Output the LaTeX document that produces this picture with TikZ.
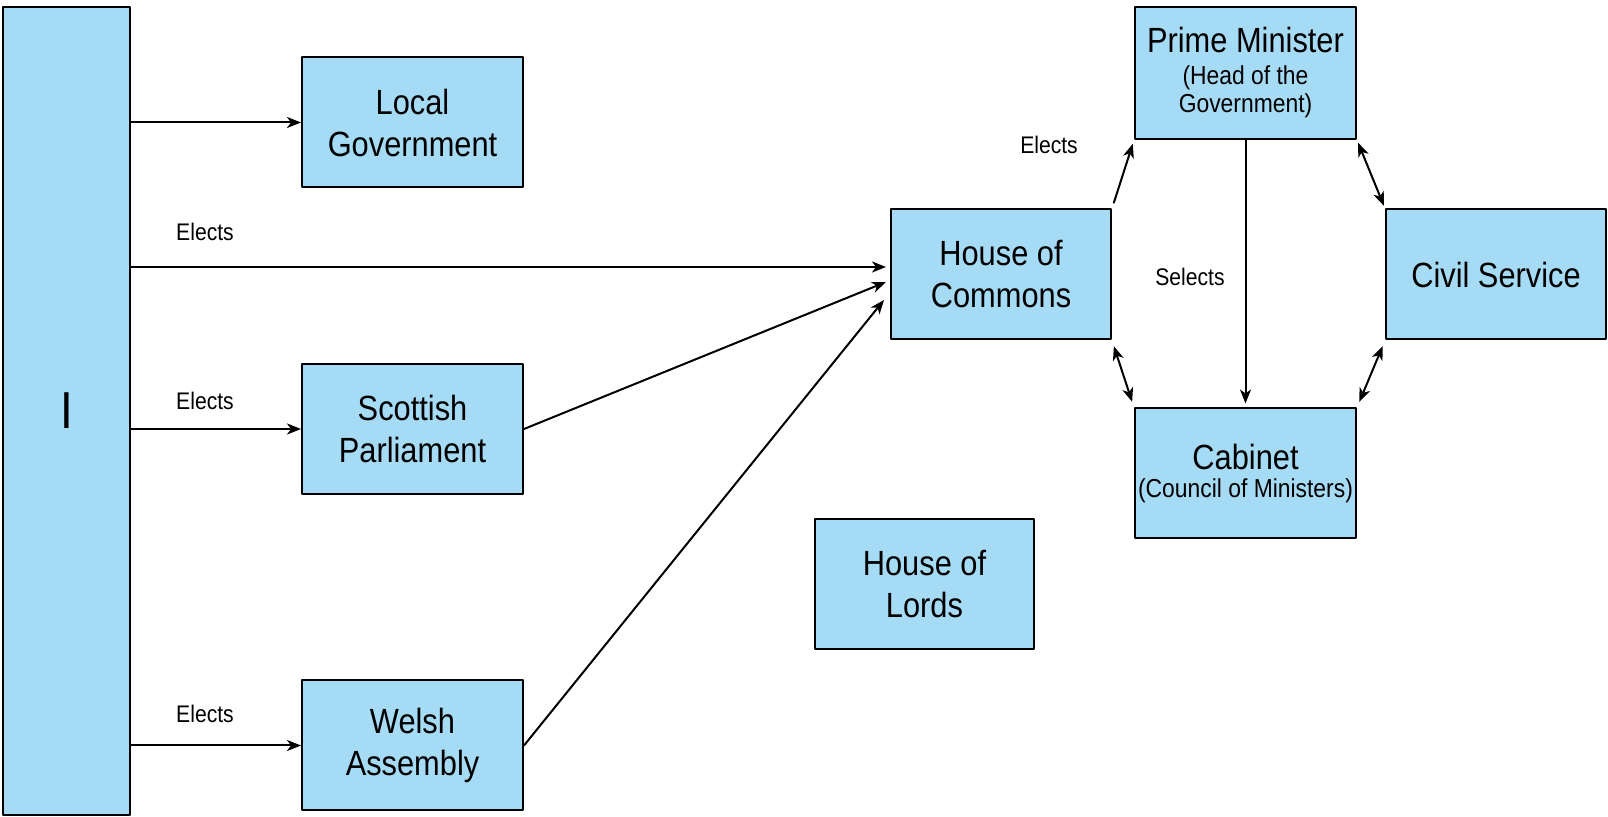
\documentclass[tikz,border=0pt]{standalone}
\usepackage{fontspec}
\setmainfont{Liberation Sans}[FakeStretch=0.88]
\usetikzlibrary{arrows.meta}
\definecolor{boxblue}{RGB}{166,219,245}
\tikzset{
	body/.style={draw, line width=1pt, fill=boxblue, inner sep=0pt, align=center,
		minimum width=110.5pt, minimum height=65pt, font=\fontsize{17.5}{21}\selectfont},
	lbl/.style={inner sep=0pt, font=\fontsize{12}{14}\selectfont},
	link/.style={line width=1pt},
}
\newcommand{\subtxt}{\fontsize{13}{15}\selectfont}
\begin{document}
\begin{tikzpicture}[x=0.5pt, y=-0.5pt, line join=round, line cap=round, >={Stealth[length=7pt,width=5.5pt,inset=2pt]}]
	\useasboundingbox (0,0) rectangle (1608,817);
	% boxes, at pixel positions of the original
	\path
	(66.5,411) node[body, minimum width=63.5pt, minimum height=404pt, font=\fontsize{26}{30}\selectfont] (voters) {I}
	(412.5,122.5) node[body] (lg) {Local\\Government}
	(412.5,429) node[body] (scot) {Scottish\\Parliament}
	(412.5,745.5) node[body] (welsh) {Welsh\\Assembly}
	(1001,274.5) node[body, minimum width=110pt] (hoc) {House of\\Commons}
	(924.5,584) node[body, minimum width=109.5pt] (lords) {House of\\Lords}
	(1245.5,73) node[body, minimum height=66pt] (pm) {Prime Minister\\[-5pt]{\subtxt (Head of the}\\[-7pt]{\subtxt Government)}}
	(1496,274.5) node[body, minimum width=110pt] (cs) {Civil Service}
	(1245.5,473.5) node[body] (cab) {Cabinet\\[-7pt]{\subtxt (Council of Ministers)}}
	;
	% labels
	\path
	(205,232) node[lbl] (e1) {Elects}
	(205,401) node[lbl] (e2) {Elects}
	(205,714) node[lbl] (e3) {Elects}
	(1049,145) node[lbl] (e4) {Elects}
	(1190,277) node[lbl] (sel) {Selects}
	;
	\coordinate (hin1) at ([shift={(-2pt,3.75pt)}]hoc.west);
	\coordinate (hin2) at ([shift={(-2pt,-3.75pt)}]hoc.west);
	\coordinate (hin3) at ([shift={(-3pt,-12.75pt)}]hoc.west);
	% connectors
	\draw[link,->] (voters.east |- lg.west) -- (lg.west);
	\draw[link,->] (voters.east |- hin1) -- (hin1);
	\draw[link,->] (voters.east |- scot.west) -- (scot.west);
	\draw[link,->] (voters.east |- welsh.west) -- (welsh.west);
	\draw[link,->] (scot.east) -- (hin2);
	\draw[link,->] (welsh.east) -- (hin3);
	\draw[link,->,shorten <=3pt,shorten >=2pt] (hoc.north east) -- (pm.south west);
	\draw[link,->,shorten >=2pt] (pm.south) -- (cab.north);
	\draw[link,<->,shorten <=1.5pt,shorten >=1.5pt] (pm.south east) -- (cs.north west);
	\draw[link,<->,shorten <=3pt,shorten >=3pt] (hoc.south east) -- (cab.north west);
	\draw[link,<->,shorten <=3pt,shorten >=3pt] (cs.south west) -- (cab.north east);
\end{tikzpicture}
\end{document}
